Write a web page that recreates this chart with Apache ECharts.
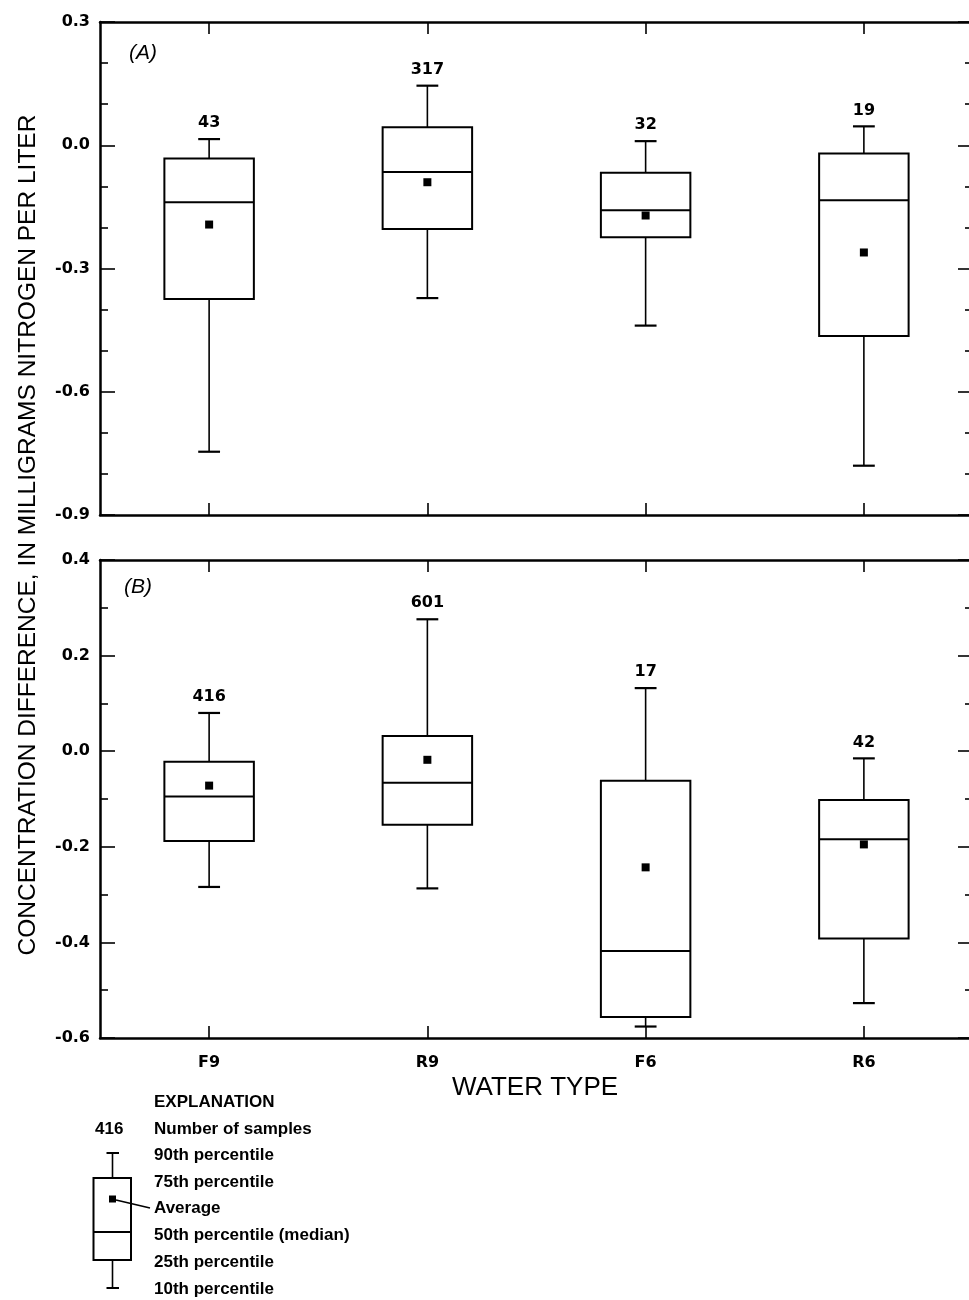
<!DOCTYPE html>
<html><head><meta charset="utf-8">
<script src="https://cdn.jsdelivr.net/npm/echarts@6/dist/echarts.min.js"></script>
<style>html,body{margin:0;padding:0;background:#fff}#c{width:969px;height:1300px}</style>
</head><body><div id="c"></div>
<script>
// ---- Data ----
const categories = ['F9', 'R9', 'F6', 'R6'];

// Panel (A)
const aP10  = [-0.746, -0.372, -0.439, -0.780];
const aP25  = [-0.374, -0.204, -0.224, -0.464];
const aP50  = [-0.139, -0.065, -0.158, -0.134];
const aP75  = [-0.032,  0.044, -0.067, -0.020];
const aP90  = [ 0.015,  0.145,  0.010,  0.046];
const aMean = [-0.193, -0.090, -0.171, -0.261];
const aN    = [43, 317, 32, 19];

// Panel (B)
const bP10  = [-0.284, -0.287, -0.576, -0.527];
const bP25  = [-0.188, -0.154, -0.556, -0.392];
const bP50  = [-0.095, -0.066, -0.418, -0.184];
const bP75  = [-0.022,  0.032, -0.062, -0.102];
const bP90  = [ 0.080,  0.276,  0.132, -0.015];
const bMean = [-0.072, -0.018, -0.243, -0.195];
const bN    = [416, 601, 17, 42];

// Axis ranges / ticks
const aYMin = -0.9, aYMax = 0.3, aYStep = 0.3;
const bYMin = -0.6, bYMax = 0.4, bYStep = 0.2;

const yTitle = 'CONCENTRATION DIFFERENCE, IN MILLIGRAMS NITROGEN PER LITER';
const xTitle = 'WATER TYPE';
const legendTitle = 'EXPLANATION';
const legendSample = '416';
const legendItems = ['Number of samples', '90th percentile', '75th percentile', 'Average',
  '50th percentile (median)', '25th percentile', '10th percentile'];

// ---- Build ----
function makeData(p10, p25, p50, p75, p90, mean, n) {
  return categories.map((c, i) => [i, p10[i], p25[i], p50[i], p75[i], p90[i], mean[i], n[i]]);
}

function renderBox(params, api) {
  const x = api.value(0);
  const c10 = api.coord([x, api.value(1)]);
  const c25 = api.coord([x, api.value(2)]);
  const c50 = api.coord([x, api.value(3)]);
  const c75 = api.coord([x, api.value(4)]);
  const c90 = api.coord([x, api.value(5)]);
  const cm  = api.coord([x, api.value(6)]);
  const band = api.size([1, 0])[0];
  const half = band * 0.205;
  const cap = band * 0.05;
  const cx = c50[0];
  const ln = { stroke: '#000', lineWidth: 1.6 };
  return {
    type: 'group',
    children: [
      { type: 'line', shape: { x1: cx, y1: c75[1], x2: cx, y2: c90[1] }, style: ln },
      { type: 'line', shape: { x1: cx, y1: c25[1], x2: cx, y2: c10[1] }, style: ln },
      { type: 'line', shape: { x1: cx - cap, y1: c90[1], x2: cx + cap, y2: c90[1] }, style: { stroke: '#000', lineWidth: 2.2 } },
      { type: 'line', shape: { x1: cx - cap, y1: c10[1], x2: cx + cap, y2: c10[1] }, style: { stroke: '#000', lineWidth: 2.2 } },
      { type: 'rect', shape: { x: cx - half, y: c75[1], width: 2 * half, height: c25[1] - c75[1] },
        style: { stroke: '#000', fill: 'none', lineWidth: 2 } },
      { type: 'line', shape: { x1: cx - half, y1: c50[1], x2: cx + half, y2: c50[1] }, style: { stroke: '#000', lineWidth: 2 } },
      { type: 'rect', shape: { x: cm[0] - 4, y: cm[1] - 4, width: 8, height: 8 }, style: { fill: '#000' } },
      { type: 'text', x: cx, y: c90[1] - 16,
        style: { text: String(api.value(7)), font: 'bold 16px "DejaVu Sans"', fill: '#000', align: 'center', verticalAlign: 'middle' } }
    ]
  };
}

const fmt = v => (Math.round(v * 10) / 10).toFixed(1);
const axisLineStyle = { color: '#000', width: 2.5 };

function xAxes(grid, showLabels) {
  const base = {
    gridIndex: grid, type: 'category', data: categories, boundaryGap: true,
    axisLine: { show: true, onZero: false, lineStyle: axisLineStyle },
    axisTick: { show: true, inside: true, alignWithLabel: true, length: 12, lineStyle: { color: '#000', width: 1.6 } },
    splitLine: { show: false }
  };
  return [
    Object.assign({}, base, { position: 'bottom',
      axisLabel: { show: showLabels, margin: 17, color: '#000', fontFamily: 'DejaVu Sans', fontWeight: 'bold', fontSize: 16 } }),
    Object.assign({}, base, { position: 'top', axisLabel: { show: false } })
  ];
}
function yAxes(grid, min, max, step, minorSplit) {
  const base = {
    gridIndex: grid, type: 'value', min: min, max: max, interval: step,
    axisLine: { show: true, onZero: false, lineStyle: axisLineStyle },
    axisTick: { show: true, inside: true, length: 15, lineStyle: { color: '#000', width: 1.6 } },
    minorTick: { show: true, splitNumber: minorSplit, length: 8, lineStyle: { color: '#000', width: 1.6 } },
    splitLine: { show: false }, minorSplitLine: { show: false }
  };
  return [
    Object.assign({}, base, { position: 'left',
      axisLabel: { show: true, margin: 10, formatter: fmt, color: '#000', fontFamily: 'DejaVu Sans', fontWeight: 'bold', fontSize: 16 } }),
    Object.assign({}, base, { position: 'right', axisLabel: { show: false } })
  ];
}

const legendFont = 'bold 17px "Liberation Sans"';
const legendGraphics = [
  { type: 'text', x: 154, y: 1102, style: { text: legendTitle, font: legendFont, fill: '#000', verticalAlign: 'middle' } },
  { type: 'text', x: 95, y: 1129, style: { text: legendSample, font: legendFont, fill: '#000', verticalAlign: 'middle' } },
  { type: 'line', shape: { x1: 112.5, y1: 1153, x2: 112.5, y2: 1178 }, style: { stroke: '#000', lineWidth: 1.6 } },
  { type: 'line', shape: { x1: 112.5, y1: 1260, x2: 112.5, y2: 1288 }, style: { stroke: '#000', lineWidth: 1.6 } },
  { type: 'line', shape: { x1: 106.5, y1: 1153, x2: 119, y2: 1153 }, style: { stroke: '#000', lineWidth: 2 } },
  { type: 'line', shape: { x1: 106.5, y1: 1288, x2: 119, y2: 1288 }, style: { stroke: '#000', lineWidth: 2 } },
  { type: 'rect', shape: { x: 93.5, y: 1178, width: 37.5, height: 82 }, style: { stroke: '#000', fill: 'none', lineWidth: 2 } },
  { type: 'line', shape: { x1: 93.5, y1: 1232, x2: 131, y2: 1232 }, style: { stroke: '#000', lineWidth: 2 } },
  { type: 'rect', shape: { x: 109, y: 1195.5, width: 7, height: 7 }, style: { fill: '#000' } },
  { type: 'line', shape: { x1: 116, y1: 1200, x2: 150, y2: 1208 }, style: { stroke: '#000', lineWidth: 1.6 } }
];
const legendYs = [1129, 1155, 1182, 1208, 1235, 1262, 1289];
legendItems.forEach((t, i) => {
  legendGraphics.push({ type: 'text', x: 154, y: legendYs[i],
    style: { text: t, font: legendFont, fill: '#000', verticalAlign: 'middle' } });
});

const option = {
  backgroundColor: '#fff',
  animation: false,
  grid: [
    { left: 100, width: 873, top: 22, height: 493, containLabel: false, outerBoundsMode: 'none' },
    { left: 100, width: 873, top: 560, height: 478, containLabel: false, outerBoundsMode: 'none' }
  ],
  xAxis: [].concat(xAxes(0, false), xAxes(1, true)),
  yAxis: [].concat(yAxes(0, aYMin, aYMax, aYStep, 3), yAxes(1, bYMin, bYMax, bYStep, 2)),
  series: [
    { type: 'custom', xAxisIndex: 0, yAxisIndex: 0, renderItem: renderBox, clip: false,
      encode: { x: 0, y: [1, 2, 3, 4, 5, 6] },
      data: makeData(aP10, aP25, aP50, aP75, aP90, aMean, aN) },
    { type: 'custom', xAxisIndex: 2, yAxisIndex: 2, renderItem: renderBox, clip: false,
      encode: { x: 0, y: [1, 2, 3, 4, 5, 6] },
      data: makeData(bP10, bP25, bP50, bP75, bP90, bMean, bN) }
  ],
  graphic: [
    { type: 'text', x: 28, y: 535, rotation: Math.PI / 2,
      style: { text: yTitle, font: '24.5px "Liberation Sans"', fill: '#000', align: 'center', verticalAlign: 'middle' } },
    { type: 'text', x: 535, y: 1088,
      style: { text: xTitle, font: '26px "Liberation Sans"', fill: '#000', align: 'center', verticalAlign: 'middle' } },
    { type: 'text', x: 143, y: 53,
      style: { text: '(A)', font: 'italic 21px "Liberation Sans"', fill: '#000', align: 'center', verticalAlign: 'middle' } },
    { type: 'text', x: 138, y: 587,
      style: { text: '(B)', font: 'italic 21px "Liberation Sans"', fill: '#000', align: 'center', verticalAlign: 'middle' } }
  ].concat(legendGraphics)
};

const chart = echarts.init(document.getElementById('c'), null, { renderer: 'canvas' });
chart.setOption(option);
</script></body></html>
